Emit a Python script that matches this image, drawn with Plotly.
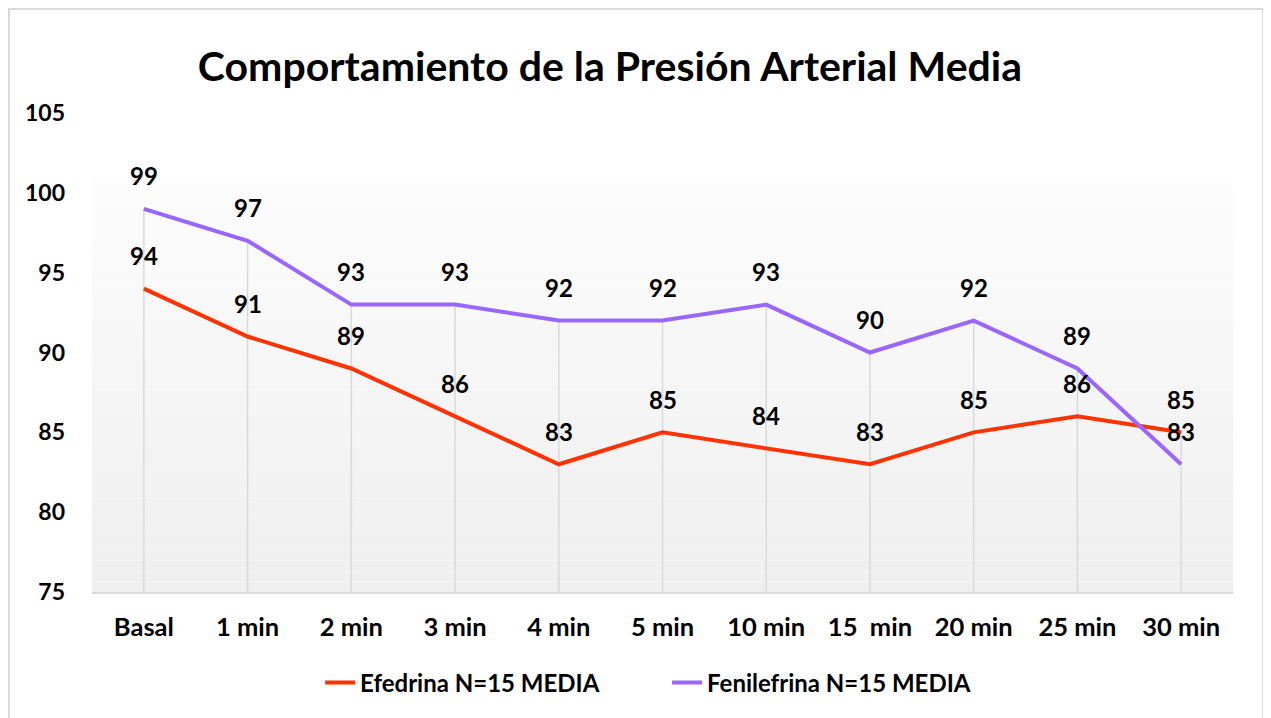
import plotly.graph_objects as go

# Data
categorias = ['Basal', '1 min', '2 min', '3 min', '4 min', '5 min',
              '10 min', '15  min', '20 min', '25 min', '30 min']
efedrina = [94, 91, 89, 86, 83, 85, 84, 83, 85, 86, 85]
fenilefrina = [99, 97, 93, 93, 92, 92, 93, 90, 92, 89, 83]
y_ticks = [75, 80, 85, 90, 95, 100, 105]

FONT = 'Lato'
x_idx = list(range(len(categorias)))

fig = go.Figure()

# Drop lines from the higher value down to the axis
drop_x, drop_y = [], []
for i, (a, b) in enumerate(zip(efedrina, fenilefrina)):
    drop_x += [i, i, None]
    drop_y += [max(a, b), 75, None]
fig.add_trace(go.Scatter(x=drop_x, y=drop_y, mode='lines',
                         line=dict(color='#d9d9d9', width=1.5),
                         showlegend=False, hoverinfo='skip'))

fig.add_trace(go.Scatter(x=x_idx, y=efedrina, mode='lines',
                         name='<b>Efedrina N=15 MEDIA</b>',
                         line=dict(color='#ff3300', width=4)))
fig.add_trace(go.Scatter(x=x_idx, y=fenilefrina, mode='lines',
                         name='<b>Fenilefrina N=15 MEDIA</b>',
                         line=dict(color='#9966ff', width=4)))

# Data labels above each point
for serie in (efedrina, fenilefrina):
    for i, v in enumerate(serie):
        fig.add_annotation(x=i, y=v, text=f'<b>{v}</b>', showarrow=False,
                           yshift=33, font=dict(family=FONT, size=24, color='black'))

# Gradient background of the plot area
shapes = []
n = 40
top, bottom = 101, 75
for k in range(n):
    y0 = top - (top - bottom) * k / n
    y1 = top - (top - bottom) * (k + 1) / n
    c = int(253 - (253 - 239) * k / (n - 1))
    shapes.append(dict(type='rect', xref='paper', yref='y', x0=0, x1=1,
                       y0=y1, y1=y0, line=dict(width=0),
                       fillcolor=f'rgb({c},{c},{c})', layer='below'))
# Chart border
shapes.append(dict(type='rect', xref='paper', yref='paper',
                   x0=-0.0727, x1=1.0263, y0=-0.30, y1=1.2171,
                   line=dict(color='#d9d9d9', width=2), layer='below'))

fig.update_layout(
    width=1263, height=710,
    margin=dict(l=84, r=38, t=105, b=126),
    paper_bgcolor='white', plot_bgcolor='white',
    shapes=shapes,
    title=dict(text='<b>Comportamiento de la Presión Arterial Media</b>',
               x=0.4766, xanchor='center', y=0.918, yanchor='middle',
               font=dict(family=FONT, size=41, color='black')),
    font=dict(family=FONT, color='black'),
    legend=dict(orientation='h', x=0.504, xanchor='center', y=-0.19, yanchor='middle',
                font=dict(family=FONT, size=24, color='black'),
                entrywidth=302, entrywidthmode='pixels', tracegroupgap=0),
    xaxis=dict(range=[-0.5, len(categorias) - 0.5], tickvals=x_idx,
               ticktext=[f'<b>{c}</b>' for c in categorias],
               showgrid=False, zeroline=False, showline=True,
               linecolor='#d9d9d9', linewidth=2, ticks='', ticklabelstandoff=11,
               tickfont=dict(family=FONT, size=25.5, color='black')),
    yaxis=dict(range=[75, 105], showgrid=False, zeroline=False,
               showline=False, ticks='', ticklabelstandoff=26,
               tickvals=y_ticks,
               ticktext=[f'<b>{v}</b>' for v in y_ticks],
               tickfont=dict(family=FONT, size=23, color='black')),
)

fig.write_html('out.html')
